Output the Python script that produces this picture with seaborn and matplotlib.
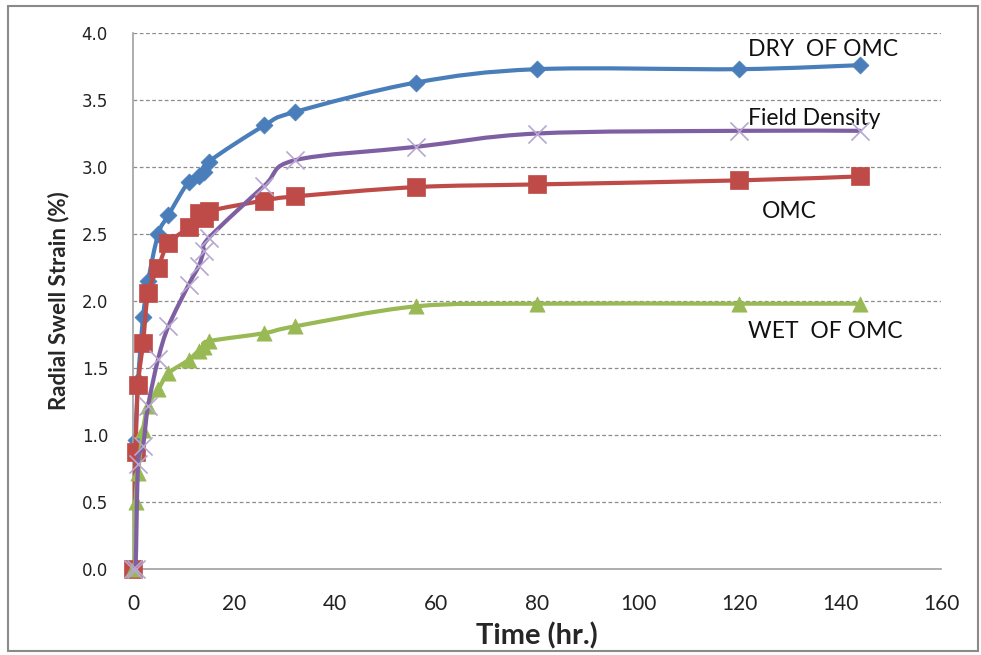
import numpy as np
import pandas as pd
import matplotlib
matplotlib.use("Agg")
import matplotlib.pyplot as plt
import seaborn as sns
from matplotlib.path import Path
from matplotlib.patches import PathPatch, Rectangle

# ---- data ----
hours = [0, 0.5, 1, 2, 3, 5, 7, 11, 13, 14, 15, 26, 32, 56, 80, 120, 144]
dry_omc = [0, 0.96, 1.40, 1.88, 2.15, 2.50, 2.64, 2.89, 2.93, 2.96, 3.04, 3.31, 3.41, 3.63, 3.73, 3.73, 3.76]
field_density = [0, 0.0, 0.78, 0.92, 1.22, 1.57, 1.81, 2.12, 2.26, 2.37, 2.47, 2.86, 3.05, 3.15, 3.25, 3.27, 3.27]
omc = [0, 0.87, 1.37, 1.69, 2.06, 2.25, 2.43, 2.55, 2.66, 2.62, 2.67, 2.75, 2.78, 2.85, 2.87, 2.90, 2.93]
wet_omc = [0, 0.50, 0.72, 1.04, 1.22, 1.34, 1.46, 1.56, 1.63, 1.66, 1.70, 1.76, 1.81, 1.96, 1.98, 1.98, 1.98]

series_names = ["DRY  OF OMC", "Field Density", "OMC", "WET  OF OMC"]
x_ticks = [0, 20, 40, 60, 80, 100, 120, 140, 160]
y_ticks = [0.0, 0.5, 1.0, 1.5, 2.0, 2.5, 3.0, 3.5, 4.0]

df = pd.DataFrame({
    "Time": hours * 4,
    "Strain": dry_omc + field_density + omc + wet_omc,
    "Series": sum([[n] * len(hours) for n in series_names], []),
})

colors = {"DRY  OF OMC": "#4A7EBB", "Field Density": "#7E5FA2",
          "OMC": "#BE4B48", "WET  OF OMC": "#98B954"}
marker_colors = {"DRY  OF OMC": "#4A7EBB", "Field Density": "#B7A6CF",
                 "OMC": "#BE4B48", "WET  OF OMC": "#98B954"}
markers = {"DRY  OF OMC": "D", "Field Density": "x", "OMC": "s", "WET  OF OMC": "^"}
msizes = {"DRY  OF OMC": 75, "Field Density": 170, "OMC": 150, "WET  OF OMC": 120}

sns.set_theme(style="white")
plt.rcParams["font.family"] = ["Lato", "DejaVu Sans"]

fig = plt.figure(figsize=(9.81, 6.55), dpi=100)
ax = fig.add_axes([133 / 981, 1 - 569 / 655, (941 - 133) / 981, (569 - 33) / 655])


def smooth_path(xs, ys, t=1 / 6):
    pts = np.column_stack([xs, ys]).astype(float)
    n = len(pts)
    verts = [pts[0]]
    codes = [Path.MOVETO]
    for i in range(n - 1):
        p0 = pts[i - 1] if i > 0 else pts[i]
        p1 = pts[i]
        p2 = pts[i + 1]
        p3 = pts[i + 2] if i + 2 < n else pts[i + 1]
        c1 = p1 + (p2 - p0) * t
        c2 = p2 - (p3 - p1) * t
        verts += [c1, c2, p2]
        codes += [Path.CURVE4] * 3
    return Path(verts, codes)


# drawing order (bottom to top), as in the reference
order = ["DRY  OF OMC", "OMC", "WET  OF OMC", "Field Density"]
z = 2
for name in order:
    sub = df[df["Series"] == name]
    ax.add_patch(PathPatch(smooth_path(sub["Time"].values, sub["Strain"].values),
                           fill=False, edgecolor=colors[name], lw=3.0,
                           capstyle="round", joinstyle="round", zorder=z))
    if markers[name] == "x":
        sns.scatterplot(data=sub, x="Time", y="Strain", marker="x", s=msizes[name],
                        color=marker_colors[name], linewidth=1.2, ax=ax, zorder=z + 0.5,
                        legend=False)
    else:
        sns.scatterplot(data=sub, x="Time", y="Strain", marker=markers[name], s=msizes[name],
                        color=marker_colors[name], edgecolor=marker_colors[name],
                        linewidth=0.5, ax=ax, zorder=z + 0.5, legend=False)
    z += 1
for coll in ax.collections:
    coll.set_clip_on(False)

ax.set_xlim(0, 160)
ax.set_ylim(0, 4.0)
ax.set_xticks(x_ticks)
ax.set_yticks(y_ticks)
ax.set_xticklabels([str(v) for v in x_ticks], fontsize=15, family=["Lato"], color="#222222")
ax.set_yticklabels([f"{v:.1f}" for v in y_ticks], fontsize=12, family=["DejaVu Sans"], color="#222222")
ax.tick_params(axis="x", pad=18, length=0)
ax.tick_params(axis="y", pad=18, length=0)

for yv in y_ticks[1:]:
    ax.axhline(yv, color="#8C8C8C", lw=0.9, ls=(0, (3, 2)), zorder=0)

for s in ["top", "right"]:
    ax.spines[s].set_visible(False)
for s in ["left", "bottom"]:
    ax.spines[s].set_color("#A0A0A0")
    ax.spines[s].set_linewidth(1.2)

ax.set_xlabel("Time (hr.)", fontsize=21, fontweight="bold", labelpad=6)
ax.set_ylabel("Radial Swell Strain (%)", fontsize=16, fontweight="bold", labelpad=9)

label_pos = {"DRY  OF OMC": (121.8, 3.88), "Field Density": (121.8, 3.36),
             "OMC": (124.6, 2.67), "WET  OF OMC": (121.8, 1.77)}
for name, (lx, ly) in label_pos.items():
    ax.text(lx, ly, name, fontsize=16.5, color="#111111", ha="left", va="center",
            family=["Lato"])

fig.patches.append(Rectangle((8 / 981, 1 - 651 / 655), 970 / 981, 645 / 655,
                             transform=fig.transFigure, fill=False,
                             edgecolor="#8A8A8A", lw=1.5))

fig.savefig("out.png", dpi=100)
